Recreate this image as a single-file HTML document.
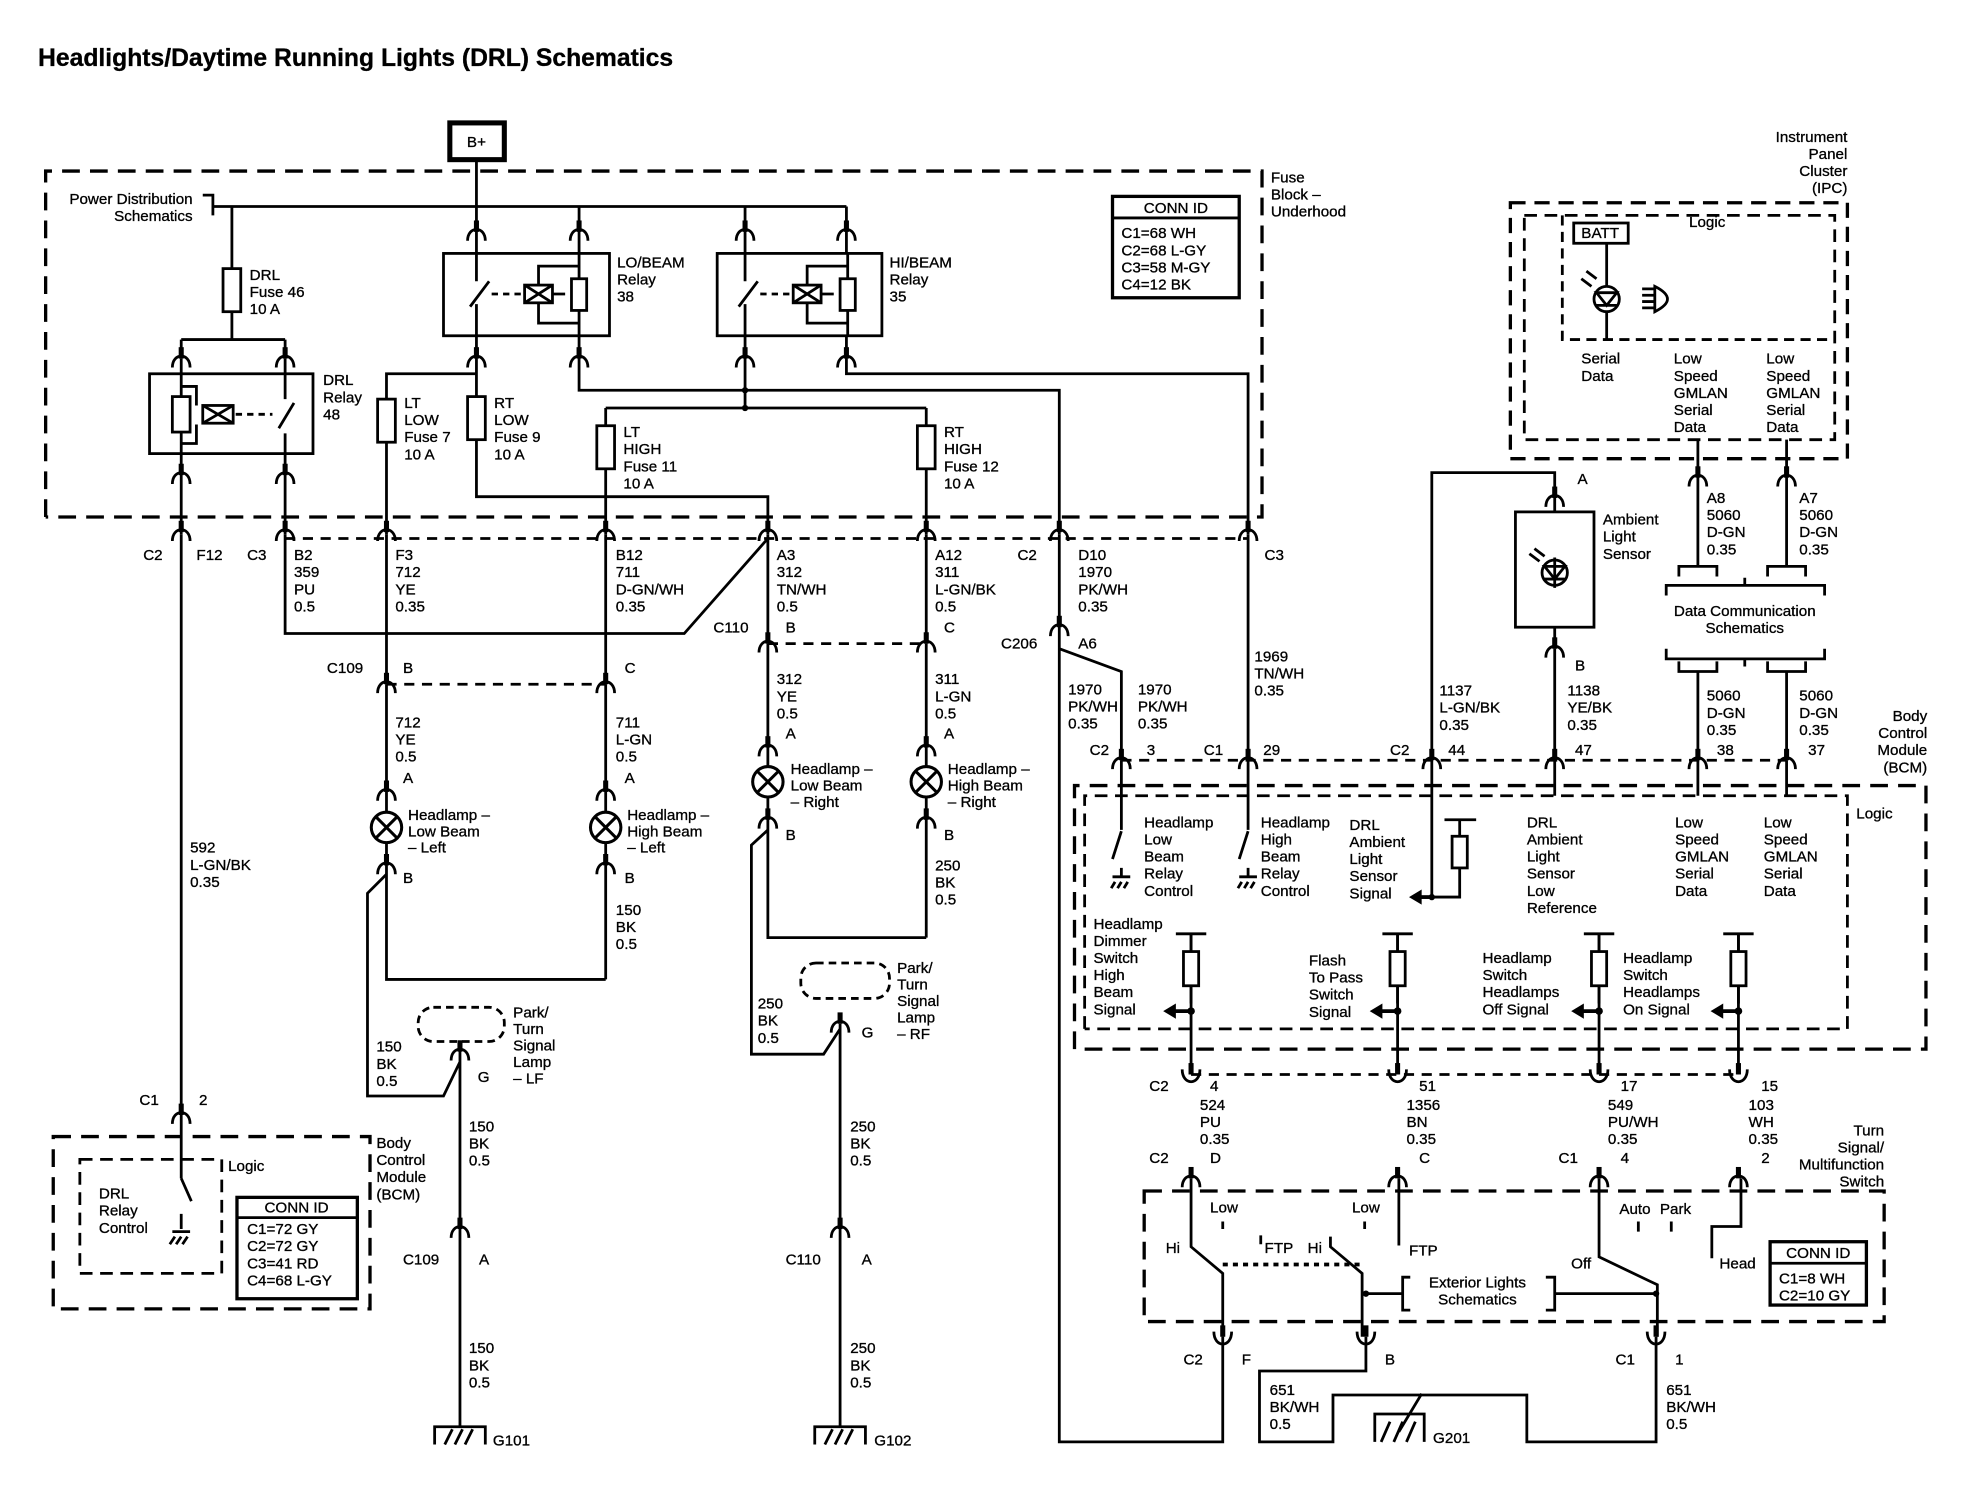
<!DOCTYPE html>
<html><head><meta charset="utf-8"><style>
html,body{margin:0;padding:0;background:#fff}
svg{display:block}
text{font-family:"Liberation Sans",sans-serif;font-size:12px;fill:#000;stroke:#000;stroke-width:0.25px}
.b{font-weight:bold}
</style></head><body>
<svg width="1964" height="1504" viewBox="0 0 1550 1187" xmlns="http://www.w3.org/2000/svg">
<defs>
<g id="c"><path d="M0,-9V0" stroke="#000" stroke-width="4"/><path d="M-7,7C-7,-5 7,-5 7,7" fill="none" stroke="#000" stroke-width="2.2"/></g>
<g id="u"><path d="M0,-9V0" stroke="#000" stroke-width="4"/><path d="M-7,-4C-7,9 7,9 7,-4" fill="none" stroke="#000" stroke-width="2.2"/></g>
<g id="lamp"><circle r="12" fill="#fff" stroke="#000" stroke-width="2.4"/><path d="M-8,-8L8,8M8,-8L-8,8" stroke="#000" stroke-width="2.4"/></g>
<g id="gnd" fill="none" stroke="#000" stroke-width="2.2"><path d="M-20,14V0H20V14M-12,14L-6,2M-4,14L2,2M4,14L10,2"/></g>
<g id="fuse"><rect x="-7" y="0" width="14" height="34" fill="#fff" stroke="#000" stroke-width="2.2"/></g>
<g id="res"><path d="M-12,0H12M0,0V55" stroke="#000" stroke-width="2.2"/><rect x="-6" y="14" width="12" height="27" fill="#fff" stroke="#000" stroke-width="2.2"/><circle cx="0" cy="61" r="3"/><path d="M0,61H-14" stroke="#000" stroke-width="3"/><path d="M-22,61L-12,55V67Z"/></g>
</defs>
<g fill="none" stroke="#000" stroke-width="2.2">
<path d="M36,408V135H996V408H36" stroke-dasharray="14,8" stroke-width="2.6"/>
<rect x="355" y="97" width="43" height="29" stroke-width="4"/>
<path d="M376,126V200M183,163H668M457,163V200M588,163V200M668,163V200M160,154H168V170M168,163H183"/>
<rect x="350" y="200" width="131" height="65"/>
<rect x="566" y="200" width="130" height="65"/>
<rect x="118" y="295" width="129" height="63"/>
<g id="rel">
<path d="M376,200V222M376,240V265M371,242L386,222"/>
<path d="M388,232H414" stroke-dasharray="5,4"/>
<rect x="414" y="225" width="22" height="14"/><path d="M414,225L436,239M436,225L414,239"/>
<path d="M436,232H446M425,225V210H457M425,239V255H457M457,200V265"/>
<rect x="451" y="220" width="12" height="25" fill="#fff"/>
</g>
<use href="#rel" x="212"/>
<path d="M143,283V358M225,283V315M220,338L232,318M225,342V358"/>
<rect x="136" y="313" width="14" height="28" fill="#fff"/>
<path d="M143,305H155V320M143,350H155V335"/>
<rect x="160" y="320" width="24" height="14"/><path d="M160,320L184,334M184,320L160,334"/>
<path d="M186,327H215" stroke-dasharray="5,4"/>
<path d="M183,163V212M183,246V268M143,268H225M143,268V283M225,268V283"/>
<path d="M143,358V422M225,358V422"/>
<path d="M376,265V295H305V315M305,349V422M376,295V313M376,347V392H606V422"/>
<path d="M457,265V308H836V422M588,265V322M478,322H731M478,322V336M478,370V422M731,322V336M731,370V422"/>
<path d="M668,265V295H985V422"/>
<path d="M225,425H985" stroke-dasharray="8,6"/>
<path d="M225,422V500H540L606,425M305,422V540M478,422V540M606,422V508M731,422V508"/>
<path d="M305,540H478M606,508H731" stroke-dasharray="8,6"/>
<path d="M305,540V641M305,665V773H478M478,540V641M478,665V773"/>
<path d="M305,690L290,705V865H350L363,838M363,828V1127"/>
<path d="M606,508V605M606,629V740H731M731,508V605M731,629V740"/>
<path d="M606,655L593,667V832H650L663,812M663,808V1127"/>
<rect x="330" y="795" width="68" height="27" rx="12" stroke-dasharray="6,4"/>
<rect x="632" y="760" width="70" height="28" rx="12" stroke-dasharray="6,4"/>
<path d="M143,422V930M143,930L151,948M143,958V970"/>
<path d="M136,972H150M138,976L134,982M143,976L139,982M148,976L144,982"/>
<rect x="42" y="897" width="250" height="136" stroke-dasharray="14,8" stroke-width="2.6"/>
<rect x="63" y="915" width="112" height="90" stroke-dasharray="10,6"/>
<rect x="187" y="945" width="95" height="80" stroke-width="2.6"/><path d="M187,961H282"/>
<rect x="878" y="155" width="100" height="80" stroke-width="2.6"/><path d="M878,172H978"/>
<path d="M836,422V1138H965V1055M836,512L885,530V600M985,422V600"/>
<path d="M1078,1055V1082H994V1138H1052V1101H1205V1138H1307V1055"/>
<path d="M1085,1138V1116H1124V1138M1090,1138L1097,1122M1100,1138L1107,1122M1110,1138L1117,1122M1122,1100L1104,1130"/>
<path d="M848,828V620H1520V828H848" stroke-dasharray="14,8" stroke-width="2.6"/>
<path d="M856,812V628H1458V812H856" stroke-dasharray="10,6"/>
<path d="M885,600H1410" stroke-dasharray="8,6"/>
<path d="M885,600V655M885,656L878,678M985,600V655M985,656L978,678"/>
<path d="M885,685V692M878,692H892M880,696L877,701M885,696L882,701M890,696L887,701"/>
<path d="M985,685V692M978,692H992M980,696L977,701M985,696L982,701M990,696L987,701"/>
<path d="M1130,600V373H1227V393M1130,600V708H1152V685M1140,647H1165M1152,647V660"/>
<rect x="1146" y="660" width="12" height="25" fill="#fff"/>
<path d="M1227,512V628M1340,600V628M1410,600V628"/>
<path d="M940,737V848M1103,737V848M1262,737V848M1372,737V848"/>
<path d="M940,848H1372" stroke-dasharray="8,6"/>
<rect x="1196" y="404" width="62" height="91"/>
<path d="M1227,393V404M1227,495V512M1227,440V464"/>
<circle cx="1227" cy="452" r="10"/>
<path d="M1219,447H1235L1227,457ZM1219,457H1235M1207,437L1215,443M1211,433L1219,439"/>
<path d="M1340,347V447M1410,347V447M1325,455V447H1355V455M1395,455V447H1425V455M1315,470V462H1440V470M1377,462V456"/>
<path d="M1315,512V520H1440V512M1377,520V526M1325,522V530H1355V522M1395,522V530H1425V522M1340,530V600M1410,530V600"/>
<rect x="1192" y="160" width="266" height="202" stroke-dasharray="12,7" stroke-width="2.6"/>
<rect x="1203" y="170" width="245" height="177" stroke-dasharray="10,6"/>
<path d="M1233,170V268H1447" stroke-dasharray="8,5"/>
<rect x="1242" y="176" width="43" height="16"/>
<path d="M1268,192V226M1268,246V268"/>
<circle cx="1268" cy="236" r="10"/>
<path d="M1260,231H1276L1268,241ZM1260,241H1276M1248,220L1256,226M1252,214L1260,220"/>
<path d="M1296,228H1306M1296,233H1306M1296,238H1306M1296,243H1306M1306,226Q1326,236 1306,246Z"/>
<path d="M903,940H1487V1043H903Z" stroke-dasharray="14,8" stroke-width="2.6"/>
<path d="M940,930V984L965,1005V1055M1050,976V984L1075,1005V1055M1104,930V983M1262,930V992L1308,1014V1055M1374,930V968H1351V993"/>
<path d="M965,998H1075" stroke-dasharray="4,4" stroke-width="3"/>
<path d="M965,964V970M1077,964V970M1293,964V972M1319,964V972M995,975V982"/>
<path d="M1078,1021H1107M1113,1008H1107V1034H1113M1220,1008H1227V1034H1220M1227,1021H1307"/>
<rect x="1397" y="980" width="76" height="50" stroke-width="2.6"/><path d="M1397,997H1473"/>
</g>
<circle cx="1078" cy="1021" r="2.5"/><circle cx="1307" cy="1021" r="2.5"/>
<circle cx="588" cy="308" r="2.5"/><circle cx="588" cy="322" r="2.5"/><circle cx="1130" cy="708" r="2.5"/>
<path d="M1118,708H1130" stroke="#000" stroke-width="3"/><path d="M1112,708L1122,702V714Z"/>
<use href="#c" x="376" y="183"/><use href="#c" x="457" y="183"/><use href="#c" x="588" y="183"/><use href="#c" x="668" y="183"/>
<use href="#c" x="376" y="283"/><use href="#c" x="457" y="283"/><use href="#c" x="588" y="283"/><use href="#c" x="668" y="283"/>
<use href="#c" x="143" y="283"/><use href="#c" x="225" y="283"/><use href="#c" x="143" y="375"/><use href="#c" x="225" y="375"/>
<use href="#c" x="143" y="420"/><use href="#c" x="225" y="420"/><use href="#c" x="305" y="420"/><use href="#c" x="478" y="420"/><use href="#c" x="606" y="420"/><use href="#c" x="731" y="420"/><use href="#c" x="836" y="420"/><use href="#c" x="985" y="420"/>
<use href="#c" x="305" y="540"/><use href="#c" x="478" y="540"/><use href="#c" x="606" y="508"/><use href="#c" x="731" y="508"/>
<use href="#c" x="305" y="625"/><use href="#c" x="478" y="625"/><use href="#c" x="305" y="683"/><use href="#c" x="478" y="683"/>
<use href="#c" x="606" y="590"/><use href="#c" x="731" y="590"/><use href="#c" x="606" y="647"/><use href="#c" x="731" y="647"/>
<use href="#c" x="363" y="830"/><use href="#c" x="663" y="808"/><use href="#c" x="363" y="970"/><use href="#c" x="663" y="970"/>
<use href="#c" x="143" y="880"/><use href="#c" x="836" y="495"/>
<use href="#c" x="885" y="600"/><use href="#c" x="985" y="600"/><use href="#c" x="1130" y="600"/><use href="#c" x="1227" y="600"/><use href="#c" x="1340" y="600"/><use href="#c" x="1410" y="600"/>
<use href="#c" x="1227" y="393"/><use href="#c" x="1227" y="512"/><use href="#c" x="1340" y="377"/><use href="#c" x="1410" y="377"/>
<use href="#u" x="940" y="848"/><use href="#u" x="1103" y="848"/><use href="#u" x="1262" y="848"/><use href="#u" x="1372" y="848"/>
<use href="#c" x="940" y="930"/><use href="#c" x="1103" y="930"/><use href="#c" x="1262" y="930"/><use href="#c" x="1372" y="930"/>
<use href="#u" x="965" y="1055"/><use href="#u" x="1078" y="1055"/><use href="#u" x="1307" y="1055"/>
<use href="#fuse" x="183" y="212"/><use href="#fuse" x="305" y="315"/><use href="#fuse" x="376" y="313"/><use href="#fuse" x="478" y="336"/><use href="#fuse" x="731" y="336"/>
<use href="#lamp" x="305" y="653"/><use href="#lamp" x="478" y="653"/><use href="#lamp" x="606" y="617"/><use href="#lamp" x="731" y="617"/>
<use href="#gnd" x="363" y="1126"/><use href="#gnd" x="663" y="1126"/>
<use href="#res" x="940" y="737"/><use href="#res" x="1103" y="737"/><use href="#res" x="1262" y="737"/><use href="#res" x="1372" y="737"/>

<text x="30" y="52" class="b" style="font-size:19.5px">Headlights/Daytime Running Lights (DRL) Schematics</text>
<text x="376" y="116" text-anchor="middle">B+</text>
<text x="152" y="161" text-anchor="end">Power Distribution<tspan x="152" dy="13.5">Schematics</tspan></text>
<text x="1003" y="144">Fuse<tspan x="1003" dy="13.5">Block –</tspan><tspan x="1003" dy="13.5">Underhood</tspan></text>
<text x="928" y="168" text-anchor="middle">CONN ID</text>
<text x="885" y="188">C1=68 WH<tspan x="885" dy="13.5">C2=68 L-GY</tspan><tspan x="885" dy="13.5">C3=58 M-GY</tspan><tspan x="885" dy="13.5">C4=12 BK</tspan></text>
<text x="197" y="221">DRL<tspan x="197" dy="13.5">Fuse 46</tspan><tspan x="197" dy="13.5">10 A</tspan></text>
<text x="487" y="211">LO/BEAM<tspan x="487" dy="13.5">Relay</tspan><tspan x="487" dy="13.5">38</tspan></text>
<text x="702" y="211">HI/BEAM<tspan x="702" dy="13.5">Relay</tspan><tspan x="702" dy="13.5">35</tspan></text>
<text x="255" y="304">DRL<tspan x="255" dy="13.5">Relay</tspan><tspan x="255" dy="13.5">48</tspan></text>
<text x="319" y="322">LT<tspan x="319" dy="13.5">LOW</tspan><tspan x="319" dy="13.5">Fuse 7</tspan><tspan x="319" dy="13.5">10 A</tspan></text>
<text x="390" y="322">RT<tspan x="390" dy="13.5">LOW</tspan><tspan x="390" dy="13.5">Fuse 9</tspan><tspan x="390" dy="13.5">10 A</tspan></text>
<text x="492" y="345">LT<tspan x="492" dy="13.5">HIGH</tspan><tspan x="492" dy="13.5">Fuse 11</tspan><tspan x="492" dy="13.5">10 A</tspan></text>
<text x="745" y="345">RT<tspan x="745" dy="13.5">HIGH</tspan><tspan x="745" dy="13.5">Fuse 12</tspan><tspan x="745" dy="13.5">10 A</tspan></text>
<text x="113" y="442">C2</text><text x="155" y="442">F12</text><text x="195" y="442">C3</text>
<text x="232" y="442">B2<tspan x="232" dy="13.5">359</tspan><tspan x="232" dy="13.5">PU</tspan><tspan x="232" dy="13.5">0.5</tspan></text>
<text x="312" y="442">F3<tspan x="312" dy="13.5">712</tspan><tspan x="312" dy="13.5">YE</tspan><tspan x="312" dy="13.5">0.35</tspan></text>
<text x="486" y="442">B12<tspan x="486" dy="13.5">711</tspan><tspan x="486" dy="13.5">D-GN/WH</tspan><tspan x="486" dy="13.5">0.35</tspan></text>
<text x="613" y="442">A3<tspan x="613" dy="13.5">312</tspan><tspan x="613" dy="13.5">TN/WH</tspan><tspan x="613" dy="13.5">0.5</tspan></text>
<text x="738" y="442">A12<tspan x="738" dy="13.5">311</tspan><tspan x="738" dy="13.5">L-GN/BK</tspan><tspan x="738" dy="13.5">0.5</tspan></text>
<text x="803" y="442">C2</text>
<text x="851" y="442">D10<tspan x="851" dy="13.5">1970</tspan><tspan x="851" dy="13.5">PK/WH</tspan><tspan x="851" dy="13.5">0.35</tspan></text>
<text x="998" y="442">C3</text>
<text x="563" y="499">C110</text><text x="620" y="499">B</text><text x="745" y="499">C</text>
<text x="258" y="531">C109</text><text x="318" y="531">B</text><text x="493" y="531">C</text>
<text x="312" y="574">712<tspan x="312" dy="13.5">YE</tspan><tspan x="312" dy="13.5">0.5</tspan></text><text x="318" y="618">A</text>
<text x="486" y="574">711<tspan x="486" dy="13.5">L-GN</tspan><tspan x="486" dy="13.5">0.5</tspan></text><text x="493" y="618">A</text>
<text x="322" y="647">Headlamp –<tspan x="322" dy="13">Low Beam</tspan><tspan x="322" dy="13">– Left</tspan></text>
<text x="495" y="647">Headlamp –<tspan x="495" dy="13">High Beam</tspan><tspan x="495" dy="13">– Left</tspan></text>
<text x="318" y="697">B</text><text x="493" y="697">B</text>
<text x="486" y="722">150<tspan x="486" dy="13.5">BK</tspan><tspan x="486" dy="13.5">0.5</tspan></text>
<text x="613" y="540">312<tspan x="613" dy="13.5">YE</tspan><tspan x="613" dy="13.5">0.5</tspan></text><text x="620" y="583">A</text>
<text x="738" y="540">311<tspan x="738" dy="13.5">L-GN</tspan><tspan x="738" dy="13.5">0.5</tspan></text><text x="745" y="583">A</text>
<text x="624" y="611">Headlamp –<tspan x="624" dy="13">Low Beam</tspan><tspan x="624" dy="13">– Right</tspan></text>
<text x="748" y="611">Headlamp –<tspan x="748" dy="13">High Beam</tspan><tspan x="748" dy="13">– Right</tspan></text>
<text x="620" y="663">B</text><text x="745" y="663">B</text>
<text x="738" y="687">250<tspan x="738" dy="13.5">BK</tspan><tspan x="738" dy="13.5">0.5</tspan></text>
<text x="150" y="673">592<tspan x="150" dy="13.5">L-GN/BK</tspan><tspan x="150" dy="13.5">0.35</tspan></text>
<text x="405" y="803">Park/<tspan x="405" dy="13">Turn</tspan><tspan x="405" dy="13">Signal</tspan><tspan x="405" dy="13">Lamp</tspan><tspan x="405" dy="13">– LF</tspan></text>
<text x="708" y="768">Park/<tspan x="708" dy="13">Turn</tspan><tspan x="708" dy="13">Signal</tspan><tspan x="708" dy="13">Lamp</tspan><tspan x="708" dy="13">– RF</tspan></text>
<text x="297" y="830">150<tspan x="297" dy="13.5">BK</tspan><tspan x="297" dy="13.5">0.5</tspan></text>
<text x="598" y="796">250<tspan x="598" dy="13.5">BK</tspan><tspan x="598" dy="13.5">0.5</tspan></text>
<text x="377" y="854">G</text><text x="680" y="819">G</text>
<text x="370" y="893">150<tspan x="370" dy="13.5">BK</tspan><tspan x="370" dy="13.5">0.5</tspan></text>
<text x="671" y="893">250<tspan x="671" dy="13.5">BK</tspan><tspan x="671" dy="13.5">0.5</tspan></text>
<text x="318" y="998">C109</text><text x="378" y="998">A</text><text x="620" y="998">C110</text><text x="680" y="998">A</text>
<text x="370" y="1068">150<tspan x="370" dy="13.5">BK</tspan><tspan x="370" dy="13.5">0.5</tspan></text>
<text x="671" y="1068">250<tspan x="671" dy="13.5">BK</tspan><tspan x="671" dy="13.5">0.5</tspan></text>
<text x="389" y="1141">G101</text><text x="690" y="1141">G102</text>
<text x="110" y="872">C1</text><text x="157" y="872">2</text>
<text x="180" y="924">Logic</text>
<text x="78" y="946">DRL<tspan x="78" dy="13.5">Relay</tspan><tspan x="78" dy="13.5">Control</tspan></text>
<text x="297" y="906">Body<tspan x="297" dy="13.5">Control</tspan><tspan x="297" dy="13.5">Module</tspan><tspan x="297" dy="13.5">(BCM)</tspan></text>
<text x="234" y="957" text-anchor="middle">CONN ID</text>
<text x="195" y="974">C1=72 GY<tspan x="195" dy="13.5">C2=72 GY</tspan><tspan x="195" dy="13.5">C3=41 RD</tspan><tspan x="195" dy="13.5">C4=68 L-GY</tspan></text>
<text x="790" y="512">C206</text><text x="851" y="512">A6</text>
<text x="843" y="548">1970<tspan x="843" dy="13.5">PK/WH</tspan><tspan x="843" dy="13.5">0.35</tspan></text>
<text x="898" y="548">1970<tspan x="898" dy="13.5">PK/WH</tspan><tspan x="898" dy="13.5">0.35</tspan></text>
<text x="990" y="522">1969<tspan x="990" dy="13.5">TN/WH</tspan><tspan x="990" dy="13.5">0.35</tspan></text>
<text x="1136" y="549">1137<tspan x="1136" dy="13.5">L-GN/BK</tspan><tspan x="1136" dy="13.5">0.35</tspan></text>
<text x="1237" y="549">1138<tspan x="1237" dy="13.5">YE/BK</tspan><tspan x="1237" dy="13.5">0.35</tspan></text>
<text x="1347" y="553">5060<tspan x="1347" dy="13.5">D-GN</tspan><tspan x="1347" dy="13.5">0.35</tspan></text>
<text x="1420" y="553">5060<tspan x="1420" dy="13.5">D-GN</tspan><tspan x="1420" dy="13.5">0.35</tspan></text>
<text x="1347" y="397">A8<tspan x="1347" dy="13.5">5060</tspan><tspan x="1347" dy="13.5">D-GN</tspan><tspan x="1347" dy="13.5">0.35</tspan></text>
<text x="1420" y="397">A7<tspan x="1420" dy="13.5">5060</tspan><tspan x="1420" dy="13.5">D-GN</tspan><tspan x="1420" dy="13.5">0.35</tspan></text>
<text x="1377" y="486" text-anchor="middle">Data Communication<tspan x="1377" dy="13.5">Schematics</tspan></text>
<text x="1245" y="382">A</text><text x="1243" y="529">B</text>
<text x="1265" y="414">Ambient<tspan x="1265" dy="13.5">Light</tspan><tspan x="1265" dy="13.5">Sensor</tspan></text>
<text x="1458" y="112" text-anchor="end">Instrument<tspan x="1458" dy="13.5">Panel</tspan><tspan x="1458" dy="13.5">Cluster</tspan><tspan x="1458" dy="13.5">(IPC)</tspan></text>
<text x="1333" y="179">Logic</text><text x="1248" y="188">BATT</text>
<text x="1248" y="287">Serial<tspan x="1248" dy="13.5">Data</tspan></text>
<text x="1321" y="287">Low<tspan x="1321" dy="13.5">Speed</tspan><tspan x="1321" dy="13.5">GMLAN</tspan><tspan x="1321" dy="13.5">Serial</tspan><tspan x="1321" dy="13.5">Data</tspan></text>
<text x="1394" y="287">Low<tspan x="1394" dy="13.5">Speed</tspan><tspan x="1394" dy="13.5">GMLAN</tspan><tspan x="1394" dy="13.5">Serial</tspan><tspan x="1394" dy="13.5">Data</tspan></text>
<text x="1521" y="569" text-anchor="end">Body<tspan x="1521" dy="13.5">Control</tspan><tspan x="1521" dy="13.5">Module</tspan><tspan x="1521" dy="13.5">(BCM)</tspan></text>
<text x="860" y="596">C2</text><text x="905" y="596">3</text><text x="950" y="596">C1</text><text x="997" y="596">29</text>
<text x="1097" y="596">C2</text><text x="1143" y="596">44</text><text x="1243" y="596">47</text><text x="1355" y="596">38</text><text x="1427" y="596">37</text>
<text x="1465" y="646">Logic</text>
<text x="903" y="653">Headlamp<tspan x="903" dy="13.5">Low</tspan><tspan x="903" dy="13.5">Beam</tspan><tspan x="903" dy="13.5">Relay</tspan><tspan x="903" dy="13.5">Control</tspan></text>
<text x="995" y="653">Headlamp<tspan x="995" dy="13.5">High</tspan><tspan x="995" dy="13.5">Beam</tspan><tspan x="995" dy="13.5">Relay</tspan><tspan x="995" dy="13.5">Control</tspan></text>
<text x="1065" y="655">DRL<tspan x="1065" dy="13.5">Ambient</tspan><tspan x="1065" dy="13.5">Light</tspan><tspan x="1065" dy="13.5">Sensor</tspan><tspan x="1065" dy="13.5">Signal</tspan></text>
<text x="1205" y="653">DRL<tspan x="1205" dy="13.5">Ambient</tspan><tspan x="1205" dy="13.5">Light</tspan><tspan x="1205" dy="13.5">Sensor</tspan><tspan x="1205" dy="13.5">Low</tspan><tspan x="1205" dy="13.5">Reference</tspan></text>
<text x="1322" y="653">Low<tspan x="1322" dy="13.5">Speed</tspan><tspan x="1322" dy="13.5">GMLAN</tspan><tspan x="1322" dy="13.5">Serial</tspan><tspan x="1322" dy="13.5">Data</tspan></text>
<text x="1392" y="653">Low<tspan x="1392" dy="13.5">Speed</tspan><tspan x="1392" dy="13.5">GMLAN</tspan><tspan x="1392" dy="13.5">Serial</tspan><tspan x="1392" dy="13.5">Data</tspan></text>
<text x="863" y="733">Headlamp<tspan x="863" dy="13.5">Dimmer</tspan><tspan x="863" dy="13.5">Switch</tspan><tspan x="863" dy="13.5">High</tspan><tspan x="863" dy="13.5">Beam</tspan><tspan x="863" dy="13.5">Signal</tspan></text>
<text x="1033" y="762">Flash<tspan x="1033" dy="13.5">To Pass</tspan><tspan x="1033" dy="13.5">Switch</tspan><tspan x="1033" dy="13.5">Signal</tspan></text>
<text x="1170" y="760">Headlamp<tspan x="1170" dy="13.5">Switch</tspan><tspan x="1170" dy="13.5">Headlamps</tspan><tspan x="1170" dy="13.5">Off Signal</tspan></text>
<text x="1281" y="760">Headlamp<tspan x="1281" dy="13.5">Switch</tspan><tspan x="1281" dy="13.5">Headlamps</tspan><tspan x="1281" dy="13.5">On Signal</tspan></text>
<text x="907" y="861">C2</text><text x="955" y="861">4</text><text x="1120" y="861">51</text><text x="1279" y="861">17</text><text x="1390" y="861">15</text>
<text x="947" y="876">524<tspan x="947" dy="13.5">PU</tspan><tspan x="947" dy="13.5">0.35</tspan></text>
<text x="1110" y="876">1356<tspan x="1110" dy="13.5">BN</tspan><tspan x="1110" dy="13.5">0.35</tspan></text>
<text x="1269" y="876">549<tspan x="1269" dy="13.5">PU/WH</tspan><tspan x="1269" dy="13.5">0.35</tspan></text>
<text x="1380" y="876">103<tspan x="1380" dy="13.5">WH</tspan><tspan x="1380" dy="13.5">0.35</tspan></text>
<text x="907" y="918">C2</text><text x="955" y="918">D</text><text x="1120" y="918">C</text><text x="1230" y="918">C1</text><text x="1279" y="918">4</text><text x="1390" y="918">2</text>
<text x="1487" y="896" text-anchor="end">Turn<tspan x="1487" dy="13.5">Signal/</tspan><tspan x="1487" dy="13.5">Multifunction</tspan><tspan x="1487" dy="13.5">Switch</tspan></text>
<text x="955" y="957">Low</text><text x="1067" y="957">Low</text><text x="1278" y="958">Auto</text><text x="1310" y="958">Park</text>
<text x="920" y="989">Hi</text><text x="998" y="989">FTP</text><text x="1032" y="989">Hi</text><text x="1112" y="991">FTP</text>
<text x="1240" y="1001">Off</text><text x="1357" y="1001">Head</text>
<text x="1166" y="1016" text-anchor="middle">Exterior Lights<tspan x="1166" dy="13.5">Schematics</tspan></text>
<text x="1435" y="993" text-anchor="middle">CONN ID</text>
<text x="1404" y="1013">C1=8 WH<tspan x="1404" dy="13.5">C2=10 GY</tspan></text>
<text x="934" y="1077">C2</text><text x="980" y="1077">F</text><text x="1093" y="1077">B</text><text x="1275" y="1077">C1</text><text x="1322" y="1077">1</text>
<text x="1002" y="1101">651<tspan x="1002" dy="13.5">BK/WH</tspan><tspan x="1002" dy="13.5">0.5</tspan></text>
<text x="1315" y="1101">651<tspan x="1315" dy="13.5">BK/WH</tspan><tspan x="1315" dy="13.5">0.5</tspan></text>
<text x="1131" y="1139">G201</text>
</svg>
</body></html>
